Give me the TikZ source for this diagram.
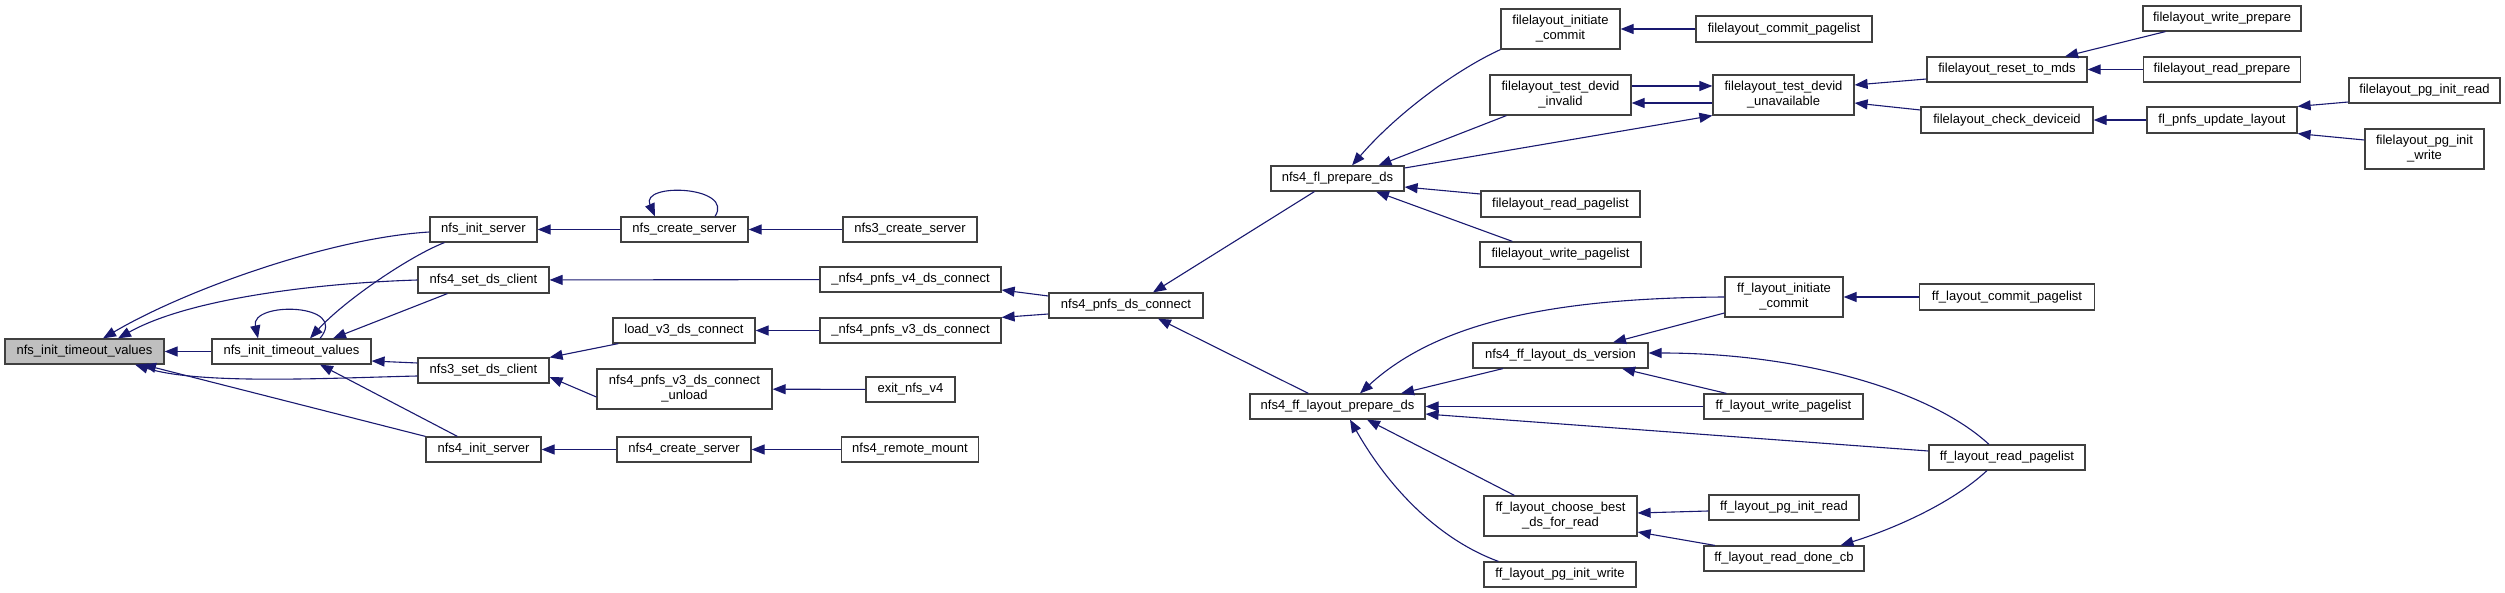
\documentclass[tikz,border=0pt]{standalone}
\usepackage{fontspec}
\setmainfont{Liberation Sans}
\usepackage{tikz}
\usetikzlibrary{arrows.meta, positioning, calc}
\definecolor{edgeblue}{RGB}{25,25,112}
\definecolor{rootgray}{RGB}{191,191,191}
\definecolor{boxline}{RGB}{64,64,64}

\begin{document}
\begin{tikzpicture}[x=1pt, y=-1pt,
  fn/.style={rectangle, draw=boxline, line width=1.2pt, fill=white, minimum height=25pt, inner sep=0pt, align=center, font=\fontsize{13}{15}\selectfont},
  fntwo/.style={fn, minimum height=40pt},
  root/.style={fn, fill=rootgray},
  call/.style={draw=edgeblue, line width=1.1pt, -{Triangle[length=13pt,width=10pt]}}
]
\useasboundingbox (0,0) rectangle (2505,593);

% columns 0-2
\node[root, minimum width=159pt] (root) at (84.5,351.5) {nfs\_init\_timeout\_values};
\node[fn, minimum width=159pt] (tv) at (291.5,351.5) {nfs\_init\_timeout\_values};
\node[fn, minimum width=107pt] (initsrv) at (483.5,229.5) {nfs\_init\_server};
\node[fn, minimum width=131pt, minimum height=26pt] (setds4) at (483.5,280) {nfs4\_set\_ds\_client};
\node[fn, minimum width=131pt] (setds3) at (483.5,370.5) {nfs3\_set\_ds\_client};
\node[fn, minimum width=115pt] (init4srv) at (483.5,449.5) {nfs4\_init\_server};

% columns 3-5
\node[fn, minimum width=127pt] (createsrv) at (684.5,229.5) {nfs\_create\_server};
\node[fn, minimum width=142pt] (loadv3) at (684,330.5) {load\_v3\_ds\_connect};
\node[fntwo, minimum width=175pt] (unload) at (684.5,389) {nfs4\_pnfs\_v3\_ds\_connect\\\_unload};
\node[fn, minimum width=134pt] (create4srv) at (684,449.5) {nfs4\_create\_server};
\node[fn, minimum width=134pt] (create3srv) at (910,229.5) {nfs3\_create\_server};
\node[fn, minimum width=181pt] (v4conn) at (910.5,279.5) {\_nfs4\_pnfs\_v4\_ds\_connect};
\node[fn, minimum width=181pt] (v3conn) at (910.5,330.5) {\_nfs4\_pnfs\_v3\_ds\_connect};
\node[fn, minimum width=89pt] (exitv4) at (910.5,389.5) {exit\_nfs\_v4};
\node[fn, minimum width=137pt] (remotemnt) at (910,449.5) {nfs4\_remote\_mount};
\node[fn, minimum width=154pt] (dsconn) at (1126,305.5) {nfs4\_pnfs\_ds\_connect};

% columns 6-8
\node[fn, minimum width=133pt] (flprep) at (1337.5,178.5) {nfs4\_fl\_prepare\_ds};
\node[fn, minimum width=175pt] (ffprep) at (1337.5,406.5) {nfs4\_ff\_layout\_prepare\_ds};
\node[fntwo, minimum width=119pt] (flinitc) at (1560.5,29) {filelayout\_initiate\\\_commit};
\node[fntwo, minimum width=141pt] (flinval) at (1560.5,95) {filelayout\_test\_devid\\\_invalid};
\node[fn, minimum width=159pt, minimum height=26pt] (flrdpl) at (1560.5,204) {filelayout\_read\_pagelist};
\node[fn, minimum width=161pt] (flwrpl) at (1560.5,254.5) {filelayout\_write\_pagelist};
\node[fn, minimum width=175pt] (ffver) at (1560.5,355.5) {nfs4\_ff\_layout\_ds\_version};
\node[fntwo, minimum width=153pt] (ffchoose) at (1560.5,516) {ff\_layout\_choose\_best\\\_ds\_for\_read};
\node[fn, minimum width=152pt] (ffpgw) at (1560,574.5) {ff\_layout\_pg\_init\_write};
\node[fn, minimum width=176pt, minimum height=26pt] (flcommit) at (1784,29) {filelayout\_commit\_pagelist};
\node[fntwo, minimum width=141pt] (flunav) at (1783.5,95) {filelayout\_test\_devid\\\_unavailable};
\node[fntwo, minimum width=118pt] (ffinitc) at (1784,297) {ff\_layout\_initiate\\\_commit};
\node[fn, minimum width=159pt] (ffwrpl) at (1783.5,406.5) {ff\_layout\_write\_pagelist};
\node[fn, minimum width=150pt] (ffpgr) at (1784,507.5) {ff\_layout\_pg\_init\_read};
\node[fn, minimum width=160pt] (ffdone) at (1784,558.5) {ff\_layout\_read\_done\_cb};

% columns 9-11
\node[fn, minimum width=160pt] (flreset) at (2007,69.5) {filelayout\_reset\_to\_mds};
\node[fn, minimum width=172pt, minimum height=26pt] (flcheck) at (2007,120) {filelayout\_check\_deviceid};
\node[fn, minimum width=175pt, minimum height=26pt] (ffcommit) at (2007,297) {ff\_layout\_commit\_pagelist};
\node[fn, minimum width=156pt] (ffrdpl) at (2007,457.5) {ff\_layout\_read\_pagelist};
\node[fn, minimum width=158pt] (flwrprep) at (2222,18.5) {filelayout\_write\_prepare};
\node[fn, minimum width=157pt] (flrdprep) at (2222,69.5) {filelayout\_read\_prepare};
\node[fn, minimum width=150pt, minimum height=26pt] (flupdate) at (2222,120) {fl\_pnfs\_update\_layout};
\node[fn, minimum width=151pt] (flpgr) at (2424.5,90.5) {filelayout\_pg\_init\_read};
\node[fntwo, minimum width=119pt] (flpgw) at (2424.5,149) {filelayout\_pg\_init\\\_write};

% callers of the root
\draw[call] (tv) -- (root);
\draw[call] ([yshift=-2.5pt]initsrv.west) .. controls (330,238) and (185,290) .. ([xshift=18.5pt]root.north);
\draw[call] (setds4.west) .. controls (320,283) and (190,298) .. ([xshift=33.5pt]root.north);
\draw[call] ([yshift=-5.5pt]setds3.west) .. controls (330,378) and (200,385) .. ([xshift=50.5pt]root.south);
\draw[call] (init4srv.north west) -- ([xshift=58.5pt]root.south);
\draw[call] ([xshift=28.5pt]tv.north) .. controls (350,303) and (250,301) .. ([xshift=-33.5pt]tv.north);
\draw[call] ([xshift=15pt]initsrv.south west) .. controls (410,256) and (345,300) .. ([xshift=18.5pt]tv.north);
\draw[call] ([xshift=30pt]setds4.south west) -- ([xshift=41.5pt]tv.north);
\draw[call] ([yshift=7.5pt]setds3.west) -- ([yshift=-9.5pt]tv.east);
\draw[call] ([xshift=32pt]init4srv.north west) -- ([xshift=28.5pt]tv.south);

% second and third ranks
\draw[call] (createsrv) -- (initsrv);
\draw[call] ([xshift=30.5pt]createsrv.north) .. controls (735,186) and (640,182) .. ([xshift=-29.5pt]createsrv.north);
\draw[call] (create3srv) -- (createsrv);
\draw[call] (v4conn) -- (setds4);
\draw[call] ([xshift=6pt]loadv3.south west) -- (setds3.north east);
\draw[call] ([yshift=-8pt]unload.west) -- ([yshift=-6.5pt]setds3.east);
\draw[call] (v3conn) -- (loadv3);
\draw[call] (exitv4) -- (unload);
\draw[call] (create4srv) -- (init4srv);
\draw[call] (remotemnt) -- (create4srv);
\draw[call] ([yshift=9.5pt]dsconn.west) -- ([yshift=-10.5pt]v4conn.east);
\draw[call] ([yshift=-8.5pt]dsconn.west) -- (v3conn.north east);
\draw[call] ([xshift=44pt]flprep.south west) -- ([xshift=27pt]dsconn.north);
\draw[call] ([xshift=59pt]ffprep.north west) -- ([xshift=32pt]dsconn.south);

% filelayout branch
\draw[call] (flinitc.south west) .. controls (1460,68) and (1400,110) .. ([xshift=14.5pt]flprep.north);
\draw[call] ([xshift=17pt]flinval.south west) -- ([xshift=41pt]flprep.north);
\draw[call] ([yshift=10.5pt]flprep.east) -- (flunav.south west);
\draw[call] ([yshift=9pt]flinval.east) -- ([yshift=9pt]flunav.west);
\draw[call] ([yshift=-8pt]flunav.west) -- ([yshift=-8pt]flinval.east);
\draw[call] ([yshift=10pt]flrdpl.west) -- ([yshift=-8.5pt]flprep.east);
\draw[call] ([xshift=33pt]flwrpl.north west) -- ([xshift=38.5pt]flprep.south);
\draw[call] (flcommit) -- (flinitc);
\draw[call] ([yshift=-9.5pt]flreset.west) -- ([yshift=10pt]flunav.east);
\draw[call] ([yshift=10pt]flcheck.west) -- ([yshift=-8pt]flunav.east);
\draw[call] ([xshift=23pt]flwrprep.south west) -- ([xshift=58pt]flreset.north);
\draw[call] (flrdprep) -- (flreset);
\draw[call] (flupdate) -- (flcheck);
\draw[call] ([yshift=-11.5pt]flpgr.west) -- (flupdate.north east);
\draw[call] ([yshift=9pt]flpgw.west) -- (flupdate.south east);

% flexfiles branch
\draw[call] (ffinitc.west) .. controls (1560,298) and (1440,320) .. ([xshift=22.5pt]ffprep.north);
\draw[call] ([yshift=-16pt]ffinitc.west) -- ([xshift=52.5pt]ffver.north);
\draw[call] ([xshift=30.5pt]ffver.south west) -- ([xshift=63.5pt]ffprep.north);
\draw[call] ([xshift=23pt]ffwrpl.north west) -- ([xshift=61.5pt]ffver.south);
\draw[call] (ffwrpl) -- (ffprep);
\draw[call] ([xshift=-18pt]ffrdpl.north) .. controls (1930,390) and (1800,353) .. ([yshift=2.5pt]ffver.east);
\draw[call] ([yshift=6.5pt]ffrdpl.west) -- ([yshift=-7.5pt]ffprep.east);
\draw[call] ([xshift=-20pt]ffrdpl.south) .. controls (1950,505) and (1890,530) .. ([xshift=56.5pt]ffdone.north);
\draw[call] ([xshift=31pt]ffchoose.north west) -- ([xshift=29.5pt]ffprep.south);
\draw[call] ([xshift=15pt]ffpgw.north west) .. controls (1440,540) and (1390,490) .. ([xshift=12.5pt]ffprep.south);
\draw[call] ([yshift=-3.5pt]ffpgr.west) -- ([yshift=3pt]ffchoose.east);
\draw[call] ([xshift=11.5pt]ffdone.north west) -- ([yshift=-16pt]ffchoose.east);
\draw[call] (ffcommit) -- (ffinitc);
\end{tikzpicture}
\end{document}
